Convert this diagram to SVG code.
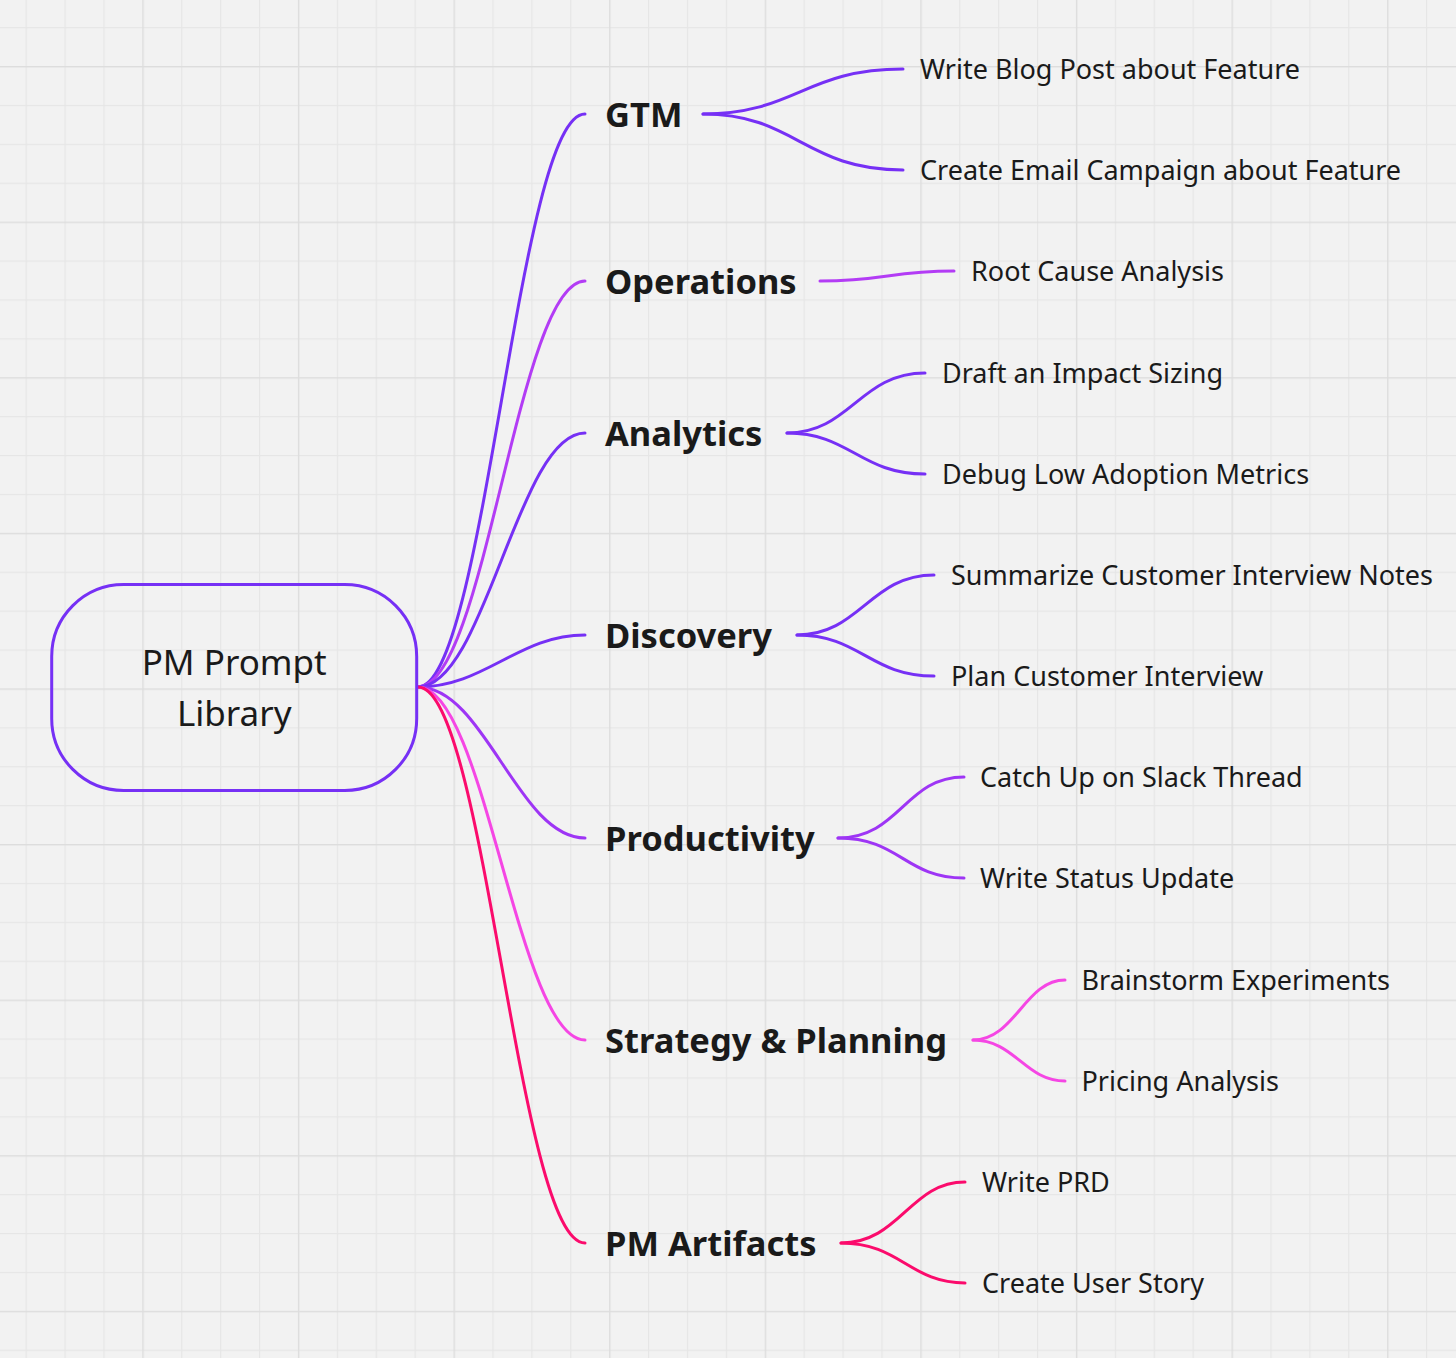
<svg xmlns="http://www.w3.org/2000/svg" width="1456" height="1358" viewBox="0 0 1456 1358">
  <defs>
    <pattern id="grid" x="142.3" y="66" width="155.6" height="155.6" patternUnits="userSpaceOnUse">
      <g fill="#e6e6e6">
        <rect x="38.9" y="0" width="1.2" height="155.6"/>
        <rect x="77.8" y="0" width="1.2" height="155.6"/>
        <rect x="116.7" y="0" width="1.2" height="155.6"/>
        <rect x="0" y="38.9" width="155.6" height="1.2"/>
        <rect x="0" y="77.8" width="155.6" height="1.2"/>
        <rect x="0" y="116.7" width="155.6" height="1.2"/>
      </g>
      <g fill="#dddddd">
        <rect x="0" y="0" width="1.4" height="155.6"/>
        <rect x="0" y="0" width="155.6" height="1.4"/>
      </g>
    </pattern>
  </defs>
  <style>
    .root-text { font-family: "Noto Sans", "Open Sans", sans-serif; font-size: 35px; fill: #1a1a1a; text-anchor: middle; }
    .branch { font-family: "Noto Sans", "Open Sans", sans-serif; font-size: 34.5px; font-weight: 700; fill: #1a1a1a; }
    .leaf { font-family: "Noto Sans", "Open Sans", sans-serif; font-size: 27px; fill: #1a1a1a; }
    .edge { fill: none; stroke-width: 3; stroke-linecap: round; }
    .c-violet { stroke: #7630f5; }
    .c-ops { stroke: #b33cf5; }
    .c-prod { stroke: #9e35f5; }
    .c-strat { stroke: #f546e4; }
    .c-pm { stroke: #fb0b6c; }
  </style>
  <rect width="1456" height="1358" fill="#f2f2f2"/>
  <rect width="1456" height="1358" fill="url(#grid)"/>

  <g id="connectors">
    <!-- root to branches -->
    <path class="edge c-violet" d="M418,687 C485,687 518,114 585,114"/>
    <path class="edge c-ops" d="M418,687 C485,687 518,281 585,281"/>
    <path class="edge c-violet" d="M418,687 C485,687 518,433 585,433"/>
    <path class="edge c-violet" d="M418,687 C485,687 518,635 585,635"/>
    <path class="edge c-prod" d="M418,687 C485,687 518,838 585,838"/>
    <path class="edge c-strat" d="M418,687 C485,687 518,1040 585,1040"/>
    <path class="edge c-pm" d="M418,687 C485,687 518,1243 585,1243"/>
    <!-- branches to leaves -->
    <path class="edge c-violet" d="M703,114 C795,114 805,69 903,69"/>
    <path class="edge c-violet" d="M703,114 C795,114 805,170 903,170"/>
    <path class="edge c-ops" d="M820,281 C885,281 890,271 954,271"/>
    <path class="edge c-violet" d="M787,433 C850,433 860,373 925,373"/>
    <path class="edge c-violet" d="M787,433 C850,433 860,474 925,474"/>
    <path class="edge c-violet" d="M797,635 C860,635 870,575 934,575"/>
    <path class="edge c-violet" d="M797,635 C860,635 870,676 934,676"/>
    <path class="edge c-prod" d="M838,838 C900,838 905,777 964,777"/>
    <path class="edge c-prod" d="M838,838 C900,838 905,878 964,878"/>
    <path class="edge c-strat" d="M973,1040 C1015,1040 1025,980 1065,980"/>
    <path class="edge c-strat" d="M973,1040 C1015,1040 1025,1081 1065,1081"/>
    <path class="edge c-pm" d="M841,1243 C900,1243 910,1182 965,1182"/>
    <path class="edge c-pm" d="M841,1243 C900,1243 910,1283 965,1283"/>
  </g>

  <g id="root">
    <rect x="51.7" y="584.5" width="365" height="206" rx="72" ry="72" fill="none" stroke="#7630f5" stroke-width="3"/>
    <text class="root-text" x="234.2" y="675">PM Prompt</text>
    <text class="root-text" x="234.2" y="725.5">Library</text>
  </g>

  <g id="gtm"><text class="branch" x="605" y="126.5">GTM</text></g>
  <g id="operations"><text class="branch" x="605" y="293.5">Operations</text></g>
  <g id="analytics"><text class="branch" x="605" y="445.5">Analytics</text></g>
  <g id="discovery"><text class="branch" x="605" y="647.5">Discovery</text></g>
  <g id="productivity"><text class="branch" x="605" y="850.5">Productivity</text></g>
  <g id="strategy"><text class="branch" x="605" y="1052.5">Strategy &amp; Planning</text></g>
  <g id="pm-artifacts"><text class="branch" x="605" y="1255.5">PM Artifacts</text></g>

  <g id="leaf-blog"><text class="leaf" x="920" y="79">Write Blog Post about Feature</text></g>
  <g id="leaf-email"><text class="leaf" x="920" y="180">Create Email Campaign about Feature</text></g>
  <g id="leaf-rca"><text class="leaf" x="971" y="281">Root Cause Analysis</text></g>
  <g id="leaf-impact"><text class="leaf" x="942" y="383">Draft an Impact Sizing</text></g>
  <g id="leaf-debug"><text class="leaf" x="942" y="484">Debug Low Adoption Metrics</text></g>
  <g id="leaf-summarize"><text class="leaf" x="951" y="584.5">Summarize Customer Interview Notes</text></g>
  <g id="leaf-plan"><text class="leaf" x="951" y="686">Plan Customer Interview</text></g>
  <g id="leaf-slack"><text class="leaf" x="980" y="787">Catch Up on Slack Thread</text></g>
  <g id="leaf-status"><text class="leaf" x="980" y="888">Write Status Update</text></g>
  <g id="leaf-brainstorm"><text class="leaf" x="1081.5" y="990">Brainstorm Experiments</text></g>
  <g id="leaf-pricing"><text class="leaf" x="1081.5" y="1091">Pricing Analysis</text></g>
  <g id="leaf-prd"><text class="leaf" x="982" y="1192">Write PRD</text></g>
  <g id="leaf-story"><text class="leaf" x="982" y="1293">Create User Story</text></g>
</svg>
